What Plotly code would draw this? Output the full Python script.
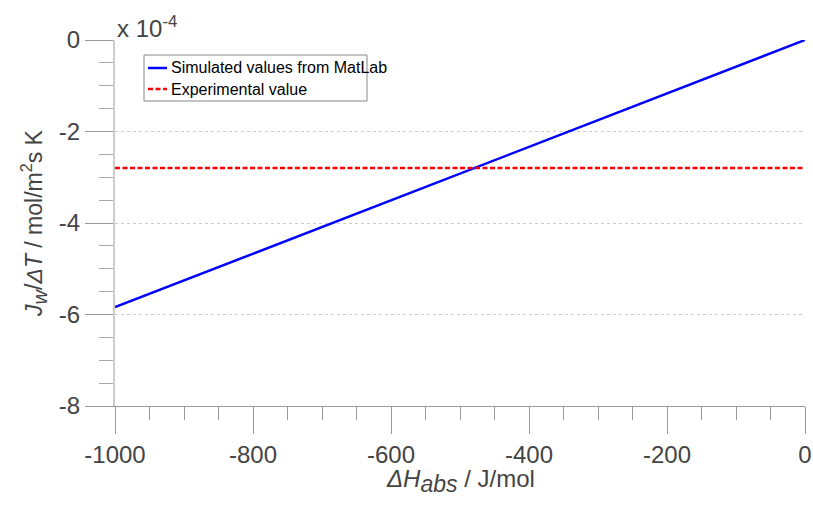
import plotly.graph_objects as go

x_sim = [-1000, 0]
y_sim = [-5.84e-4, 0.0]
x_exp = [-1000, 0]
y_exp = [-2.80e-4, -2.80e-4]
x_ticks = [-1000, -800, -600, -400, -200, 0]
x_ticktext = ["-1000", "-800", "-600", "-400", "-200", "0"]
y_ticks = [0, -2e-4, -4e-4, -6e-4, -8e-4]
y_ticktext = ["0", "-2", "-4", "-6", "-8"]
series_names = ["Simulated values from MatLab", "Experimental value"]
series_colors = ["#0000ff", "#ff0000"]
series_dash = ["solid", "5px,2.5px"]

font = "Liberation Sans"
W, H = 813, 505
L, R, T, B = 115, 8, 40, 99
PW, PH = W - L - R, H - T - B


def px(xp):
    return (xp - L) / PW


def py(yp):
    return 1 - (yp - T) / PH


fig = go.Figure()
for xs, ys, nm, col, ds in [(x_sim, y_sim, series_names[0], series_colors[0], series_dash[0]),
                            (x_exp, y_exp, series_names[1], series_colors[1], series_dash[1])]:
    fig.add_trace(go.Scatter(x=xs, y=ys, mode="lines", name=nm, showlegend=False,
                             line=dict(color=col, width=2.5, dash=ds)))

fig.update_layout(
    width=W, height=H,
    margin=dict(l=L, r=R, t=T, b=B),
    plot_bgcolor="white", paper_bgcolor="white",
    font=dict(family=font, color="#444444"),
    showlegend=False,
    xaxis=dict(range=[-1000, 0], tickvals=x_ticks, ticktext=x_ticktext, ticks="outside", ticklen=27,
               tickcolor="#999999", tickfont=dict(size=24, color="#444444", family=font),
               showline=True, linecolor="#999999", linewidth=1, automargin=False,
               showgrid=False, zeroline=False,
               minor=dict(ticks="outside", ticklen=13, dtick=50, tickcolor="#999999", showgrid=False)),
    yaxis=dict(range=[-8e-4, 0], tickvals=y_ticks, ticktext=y_ticktext, ticks="outside", ticklen=28,
               tickcolor="#999999", tickfont=dict(size=24, color="#444444", family=font),
               showline=True, linecolor="#cccccc", linewidth=2, automargin=False,
               showgrid=True, gridcolor="#cccccc", griddash="dot", gridwidth=1,
               zeroline=False,
               minor=dict(ticks="outside", ticklen=14, dtick=0.5e-4, tickcolor="#aaaaaa", showgrid=False),
               title=dict(text="<i>J<sub><span style='font-size:20px'>w</span></sub></i>/<i>ΔT</i> / mol/m<sup>2</sup>s K",
                          font=dict(size=23, color="#444444", family=font), standoff=10)),
)

# x-axis title
fig.add_annotation(text="<i>ΔH<sub><span style='font-size:23px'>abs</span></sub></i> / J/mol",
                   xref="paper", yref="paper", x=0.5, y=0, xanchor="center", yanchor="top",
                   yshift=-57, showarrow=False,
                   font=dict(size=24, color="#444444", family=font))
# exponent label
fig.add_annotation(text="x 10<sup>-4</sup>", xref="paper", yref="paper", x=0, y=1,
                   xanchor="left", yanchor="bottom", showarrow=False,
                   font=dict(size=24, color="#444444", family=font), yshift=-4)

# legend box
fig.add_shape(type="rect", xref="paper", yref="paper", x0=px(144), x1=px(367), y0=py(101), y1=py(55),
              line=dict(color="#888888", width=1), fillcolor="white", layer="above")
for i, (nm, col, ds) in enumerate(zip(series_names, series_colors, series_dash)):
    yy = py(68 + 21 * i)
    fig.add_shape(type="line", xref="paper", yref="paper", x0=px(148), x1=px(167), y0=yy, y1=yy,
                  line=dict(color=col, width=2.5, dash=ds), layer="above")
    fig.add_annotation(text=nm, xref="paper", yref="paper", x=px(169), y=yy, xanchor="left",
                       yanchor="middle", showarrow=False,
                       font=dict(size=16, color="#000000", family=font))

fig.write_html("out.html")
